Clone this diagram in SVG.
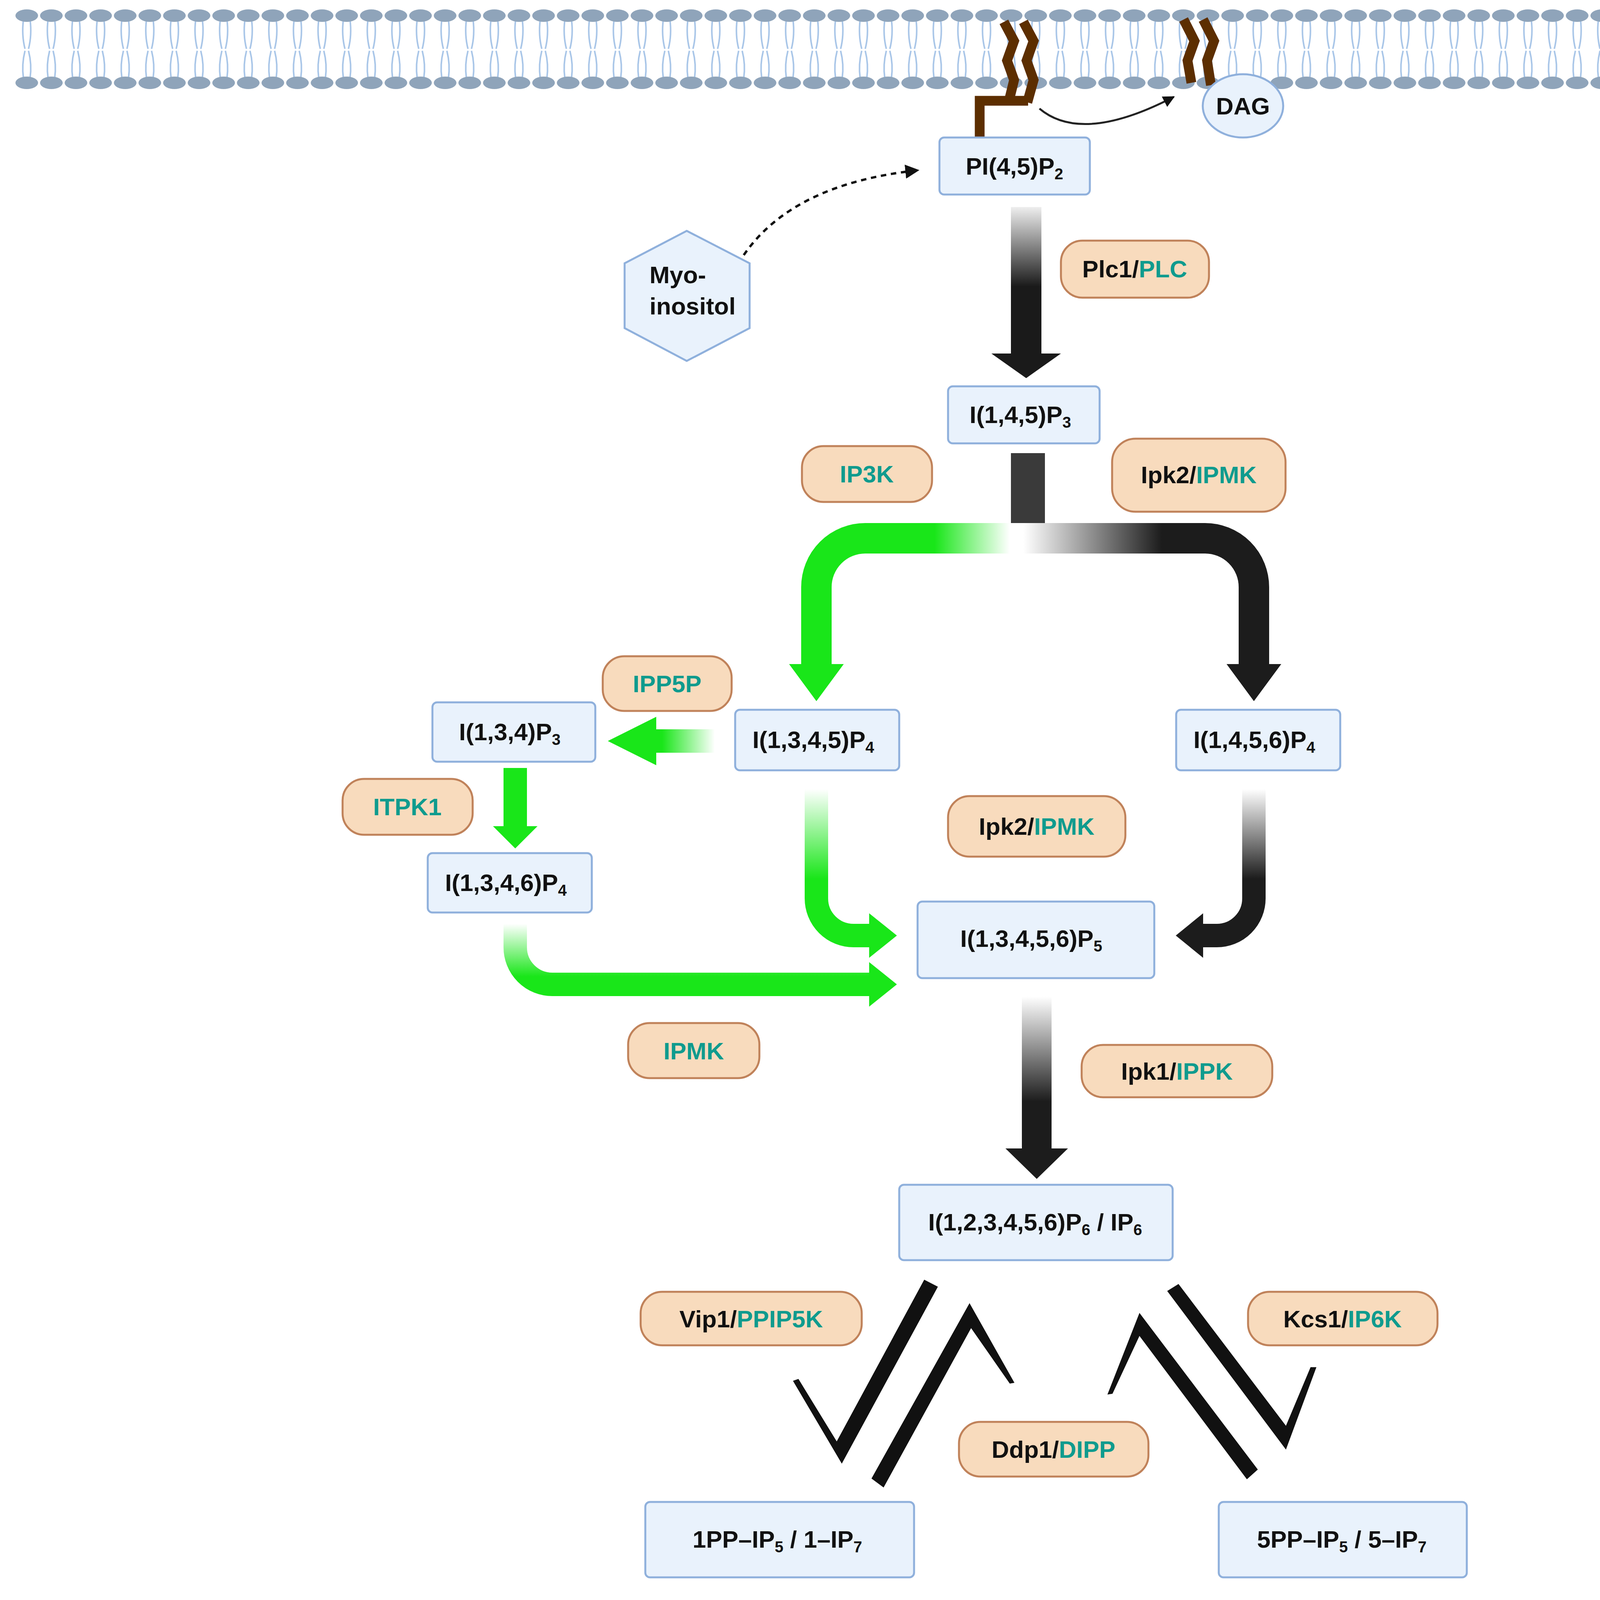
<svg xmlns="http://www.w3.org/2000/svg" width="4281" height="4883" viewBox="0 0 4281 4883">
<style>
.box{fill:#e9f2fc;stroke:#8fb0dc;stroke-width:5}
.lab{fill:#f8dbbd;stroke:#c0825a;stroke-width:5}
text{font-family:"Liberation Sans",Arial,sans-serif;font-weight:bold;font-size:62px;fill:#111;text-anchor:middle}
.t{fill:#0f9b8e}
.s{font-size:40px}
.eq{fill:#111;stroke:none}
.eqs{fill:none;stroke:#111;stroke-width:30;stroke-linejoin:miter;stroke-miterlimit:10}
</style>
<defs>
<pattern id="mem" x="37" y="0" width="63" height="240" patternUnits="userSpaceOnUse">
<path d="M23,50 Q18,90 27,125 M40,50 Q45,90 36,125 M27,130 Q18,165 23,200 M36,130 Q45,165 40,200" fill="none" stroke="#a9c6e8" stroke-width="4"/>
<ellipse cx="31.5" cy="40" rx="29" ry="16" fill="#8fa4ba"/>
<ellipse cx="31.5" cy="212" rx="29" ry="16" fill="#8fa4ba"/>
</pattern>
<marker id="ah" viewBox="0 0 10 10" refX="9" refY="5" markerWidth="6" markerHeight="6" orient="auto"><path d="M0,0 L10,5 L0,10 z" fill="#111"/></marker>
<linearGradient id="gPLC" gradientUnits="userSpaceOnUse" x1="0" y1="530" x2="0" y2="900"><stop offset="0" stop-color="#eeeeee"/><stop offset="0.55" stop-color="#1a1a1a"/></linearGradient>
<linearGradient id="gL" gradientUnits="userSpaceOnUse" x1="2640" y1="0" x2="2090" y2="0"><stop offset="0.1" stop-color="#ffffff"/><stop offset="0.45" stop-color="#19e619"/></linearGradient>
<linearGradient id="gR" gradientUnits="userSpaceOnUse" x1="2620" y1="0" x2="3210" y2="0"><stop offset="0" stop-color="#ffffff"/><stop offset="0.6" stop-color="#1c1c1c"/></linearGradient>
<linearGradient id="gH" gradientUnits="userSpaceOnUse" x1="1830" y1="0" x2="1680" y2="0"><stop offset="0" stop-color="#ffffff"/><stop offset="0.9" stop-color="#19e619"/></linearGradient>
<linearGradient id="gV1" gradientUnits="userSpaceOnUse" x1="0" y1="2020" x2="0" y2="2250"><stop offset="0" stop-color="#ffffff"/><stop offset="1" stop-color="#19e619"/></linearGradient>
<linearGradient id="gV2" gradientUnits="userSpaceOnUse" x1="0" y1="2365" x2="0" y2="2500"><stop offset="0" stop-color="#ffffff"/><stop offset="1" stop-color="#19e619"/></linearGradient>
<linearGradient id="gV3" gradientUnits="userSpaceOnUse" x1="0" y1="2020" x2="0" y2="2250"><stop offset="0" stop-color="#ffffff"/><stop offset="1" stop-color="#1c1c1c"/></linearGradient>
<linearGradient id="gV4" gradientUnits="userSpaceOnUse" x1="0" y1="2551" x2="0" y2="2820"><stop offset="0" stop-color="#ffffff"/><stop offset="1" stop-color="#1c1c1c"/></linearGradient>
</defs>

<g id="membrane">
<rect x="37" y="15" width="4203" height="225" fill="url(#mem)"/>
<path d="M2508,352 V258 H2632" fill="none" stroke="#5c2e00" stroke-width="25"/>
<path d="M2570,56 L2596,105 L2578,155 L2596,205 L2582,262" fill="none" stroke="#5c2e00" stroke-width="25"/>
<path d="M2620,56 L2646,105 L2628,155 L2646,205 L2630,262" fill="none" stroke="#5c2e00" stroke-width="25"/>
<path d="M3030,50 L3058,105 L3040,155 L3050,212" fill="none" stroke="#5c2e00" stroke-width="25"/>
<path d="M3080,50 L3108,105 L3090,155 L3100,218" fill="none" stroke="#5c2e00" stroke-width="25"/>
</g>

<g id="connectors">
<path d="M2661,278 Q2770,370 3005,248" fill="none" stroke="#222" stroke-width="5" marker-end="url(#ah)"/>
<path d="M1904,653 Q2030,470 2350,436" fill="none" stroke="#111" stroke-width="6" stroke-dasharray="14,12" marker-end="url(#ah)"/>
<rect x="2588" y="530" width="78" height="380" fill="url(#gPLC)"/>
<polygon points="2538,905 2716,905 2627,968" fill="#1a1a1a"/>
<rect x="2588" y="1160" width="87" height="190" fill="#3a3a3a"/>
<path d="M2640,1378 H2215 A125,125 0 0 0 2090,1503 V1705" fill="none" stroke="url(#gL)" stroke-width="78"/>
<polygon points="2020,1700 2160,1700 2090,1795" fill="#19e619"/>
<path d="M2620,1378 H3085 A125,125 0 0 1 3210,1503 V1705" fill="none" stroke="url(#gR)" stroke-width="78"/>
<polygon points="3140,1700 3280,1700 3210,1795" fill="#1c1c1c"/>
<rect x="1675" y="1867" width="155" height="60" fill="url(#gH)"/>
<polygon points="1680,1835 1680,1959 1556,1897" fill="#19e619"/>
<rect x="1289" y="1966" width="60" height="154" fill="#19e619"/>
<polygon points="1262,2115 1376,2115 1319,2172" fill="#19e619"/>
<path d="M2090,2020 V2300 A95,95 0 0 0 2185,2395 H2230" fill="none" stroke="url(#gV1)" stroke-width="60"/>
<polygon points="2225,2338 2225,2452 2296,2395" fill="#19e619"/>
<path d="M1319,2365 V2425 A95,95 0 0 0 1414,2520 H2230" fill="none" stroke="url(#gV2)" stroke-width="60"/>
<polygon points="2225,2463 2225,2577 2296,2520" fill="#19e619"/>
<path d="M3210,2020 V2300 A95,95 0 0 1 3115,2395 H3075" fill="none" stroke="url(#gV3)" stroke-width="60"/>
<polygon points="3080,2338 3080,2452 3010,2395" fill="#1c1c1c"/>
<rect x="2616" y="2551" width="76" height="395" fill="url(#gV4)"/>
<polygon points="2574,2940 2734,2940 2654,3018" fill="#1c1c1c"/>
<polygon class="eq" points="2366,3276 2401,3294 2155,3747 2030,3535 2044,3530 2142,3690"/>
<polygon class="eq" points="2231,3785 2482,3336 2597,3540 2585,3542 2486,3400 2262,3808"/>
<polygon class="eq" points="2835,3570 2917,3361 3220,3762 3192,3787 2917,3420 2848,3568"/>
<polygon class="eq" points="2988,3305 3017,3287 3292,3650 3355,3500 3370,3500 3292,3711"/>
<line class="eqs" x1="2121" y1="4180" x2="2474" y2="4585"/>
<polyline class="eqs" stroke-width="26" points="2456,4163 2236,4140 2370,4616 2155,4604"/>
<polyline class="eqs" stroke-width="26" points="3077,4115 3305,4122 3070,4608 3290,4617"/>
<line class="eqs" x1="3407" y1="4179" x2="2956" y2="4545"/>
</g>

<g id="DAG"><ellipse cx="3182" cy="271" rx="103" ry="81" class="box"/><text x="3182" y="293">DAG</text></g>
<g id="PIP2"><rect class="box" x="2405" y="352" width="385" height="146" rx="12"/><text x="2597" y="447">PI(4,5)P<tspan class="s" dy="12">2</tspan></text></g>
<g id="myo"><polygon class="box" points="1758,591 1919,674 1919,840 1758,924 1599,840 1599,674"/><text x="1735" y="725">Myo-</text><text x="1773" y="805">inositol</text></g>
<g id="PLC"><rect class="lab" x="2716" y="616" width="379" height="146" rx="55"/><text x="2905" y="710">Plc1/<tspan class="t">PLC</tspan></text></g>
<g id="IP3"><rect class="box" x="2427" y="989" width="388" height="146" rx="12"/><text x="2612" y="1083">I(1,4,5)P<tspan class="s" dy="12">3</tspan></text></g>
<g id="IP3K"><rect class="lab" x="2053" y="1142" width="333" height="143" rx="55"/><text x="2219" y="1235" class="t">IP3K</text></g>
<g id="Ipk2a"><rect class="lab" x="2847" y="1123" width="444" height="187" rx="60"/><text x="3069" y="1237">Ipk2/<tspan class="t">IPMK</tspan></text></g>
<g id="IP4_1345"><rect class="box" x="1882" y="1817" width="420" height="155" rx="12"/><text x="2082" y="1915">I(1,3,4,5)P<tspan class="s" dy="12">4</tspan></text></g>
<g id="IP4_1456"><rect class="box" x="3011" y="1817" width="420" height="155" rx="12"/><text x="3211" y="1915">I(1,4,5,6)P<tspan class="s" dy="12">4</tspan></text></g>
<g id="IPP5P"><rect class="lab" x="1543" y="1680" width="330" height="140" rx="55"/><text x="1708" y="1772" class="t">IPP5P</text></g>
<g id="IP3_134"><rect class="box" x="1107" y="1798" width="417" height="152" rx="12"/><text x="1305" y="1895">I(1,3,4)P<tspan class="s" dy="12">3</tspan></text></g>
<g id="ITPK1"><rect class="lab" x="877" y="1994" width="333" height="143" rx="55"/><text x="1043" y="2087" class="t">ITPK1</text></g>
<g id="IP4_1346"><rect class="box" x="1095" y="2184" width="420" height="152" rx="12"/><text x="1295" y="2281">I(1,3,4,6)P<tspan class="s" dy="12">4</tspan></text></g>
<g id="Ipk2b"><rect class="lab" x="2427" y="2038" width="454" height="155" rx="55"/><text x="2654" y="2137">Ipk2/<tspan class="t">IPMK</tspan></text></g>
<g id="IP5"><rect class="box" x="2349" y="2308" width="606" height="196" rx="12"/><text x="2640" y="2424">I(1,3,4,5,6)P<tspan class="s" dy="12">5</tspan></text></g>
<g id="IPMK"><rect class="lab" x="1608" y="2619" width="336" height="141" rx="55"/><text x="1776" y="2712" class="t">IPMK</text></g>
<g id="IPPK"><rect class="lab" x="2769" y="2675" width="488" height="134" rx="55"/><text x="3013" y="2764">Ipk1/<tspan class="t">IPPK</tspan></text></g>
<g id="IP6"><rect class="box" x="2302" y="3033" width="700" height="193" rx="12"/><text x="2650" y="3150">I(1,2,3,4,5,6)P<tspan class="s" dy="12">6</tspan><tspan dy="-12"> / IP</tspan><tspan class="s" dy="12">6</tspan></text></g>
<g id="Vip1a"><rect class="lab" x="1640" y="3307" width="566" height="137" rx="55"/><text x="1923" y="3398">Vip1/<tspan class="t">PPIP5K</tspan></text></g>
<g id="Kcs1a"><rect class="lab" x="3195" y="3307" width="485" height="137" rx="55"/><text x="3437" y="3398">Kcs1/<tspan class="t">IP6K</tspan></text></g>
<g id="Ddp1a"><rect class="lab" x="2455" y="3640" width="485" height="140" rx="55"/><text x="2697" y="3732">Ddp1/<tspan class="t">DIPP</tspan></text></g>
<g id="PP1"><rect class="box" x="1652" y="3845" width="688" height="193" rx="12"/><text x="1990" y="3962">1PP–IP<tspan class="s" dy="12">5</tspan><tspan dy="-12"> / 1–IP</tspan><tspan class="s" dy="12">7</tspan></text></g>
<g id="PP5"><rect class="box" x="3120" y="3845" width="635" height="193" rx="12"/><text x="3435" y="3962">5PP–IP<tspan class="s" dy="12">5</tspan><tspan dy="-12"> / 5–IP</tspan><tspan class="s" dy="12">7</tspan></text></g>
<g id="Ddp1b"><rect class="lab" x="2470" y="4281" width="485" height="130" rx="55"/><text x="2712" y="4368">Ddp1/<tspan class="t">DIPP</tspan></text></g>
<g id="Kcs1b"><rect class="lab" x="1611" y="4455" width="483" height="134" rx="55"/><text x="1852" y="4544">Kcs1/<tspan class="t">IP6K</tspan></text></g>
<g id="Vip1b"><rect class="lab" x="3332" y="4455" width="566" height="134" rx="55"/><text x="3615" y="4544">Vip1/<tspan class="t">PPIP5K</tspan></text></g>
<g id="IP8"><rect class="box" x="2395" y="4642" width="741" height="189" rx="12"/><text x="2765" y="4757">1,5(PP)<tspan class="s" dy="12">2</tspan><tspan dy="-12">-IP</tspan><tspan class="s" dy="12">4</tspan><tspan dy="-12"> / IP</tspan><tspan class="s" dy="12">8</tspan></text></g>
</svg>
